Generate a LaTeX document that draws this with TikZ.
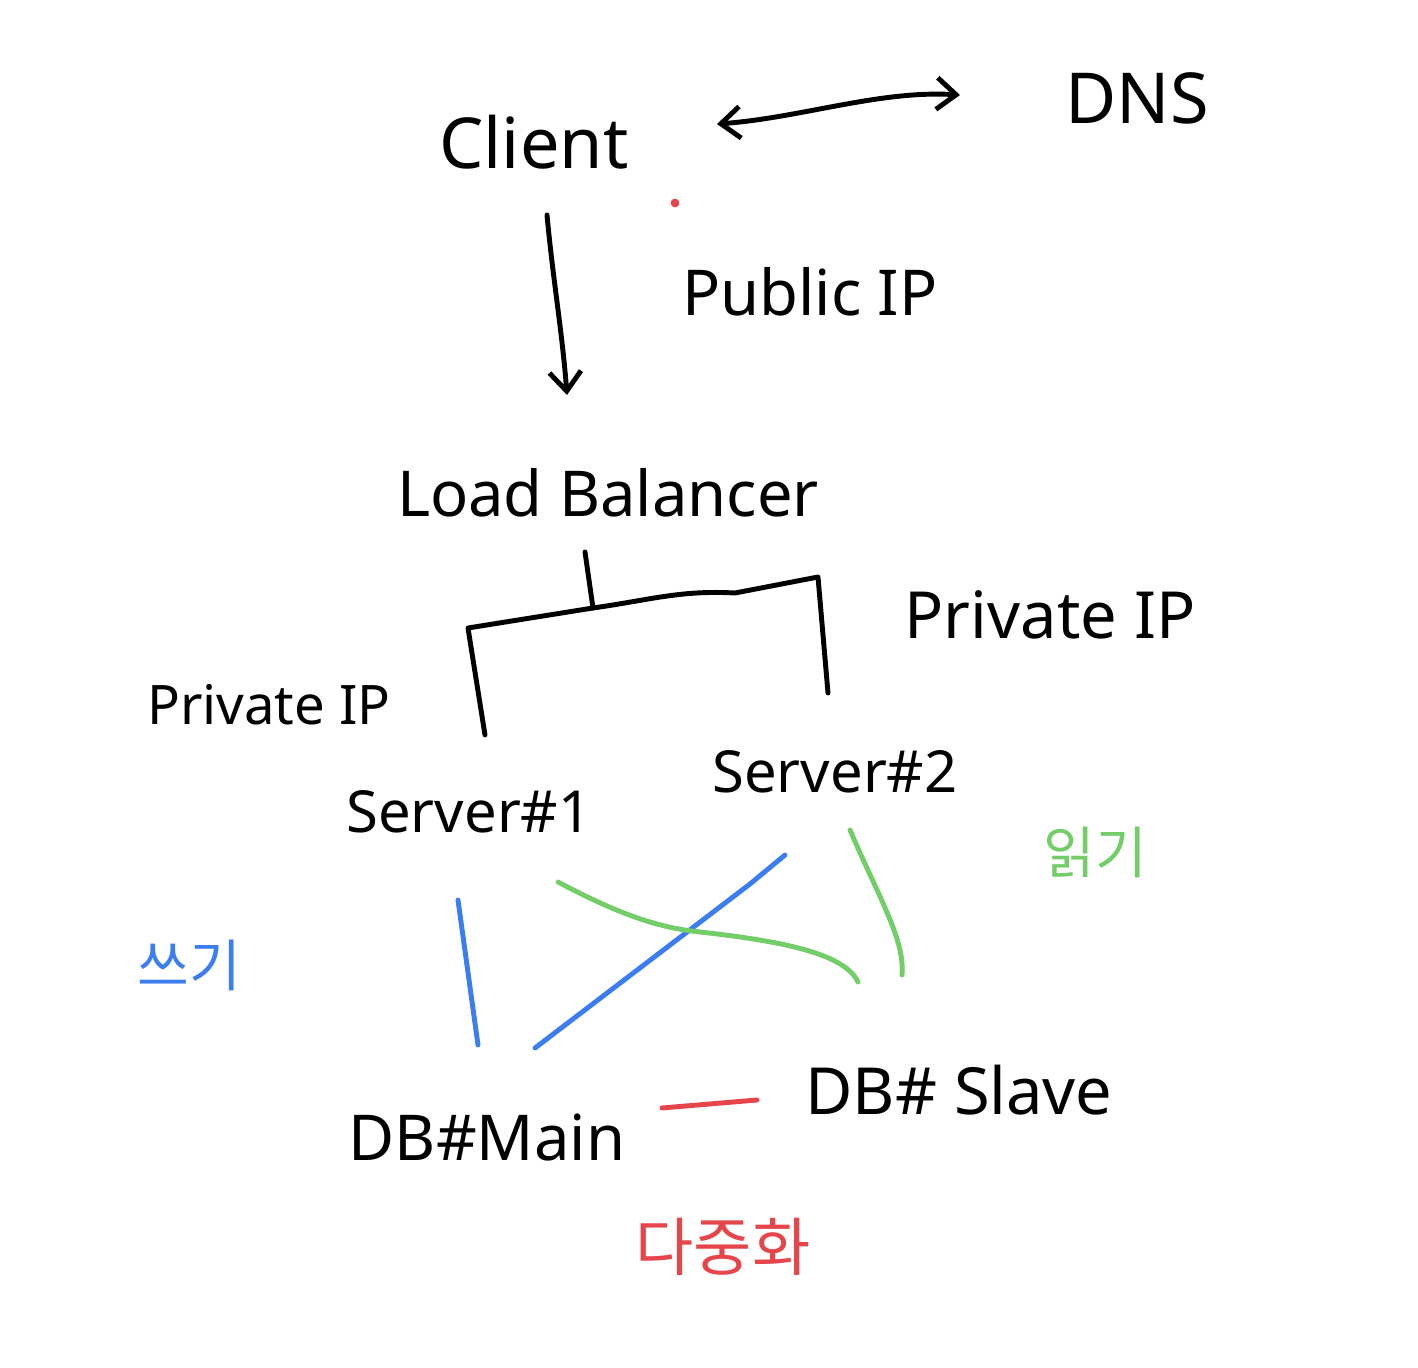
\documentclass[tikz,border=0pt]{standalone}
\usepackage{fontspec}
\setmainfont{Noto Sans}
\newfontfamily\krfont{Noto Sans CJK KR}
\usetikzlibrary{arrows.meta,positioning}

\definecolor{writeblue}{RGB}{60,125,240}
\definecolor{readgreen}{RGB}{115,205,105}
\definecolor{dupred}{RGB}{230,70,75}

\tikzset{
  lbl/.style={inner sep=0pt, font=\fontsize{#1}{#1}\selectfont},
  lbl/.default=40,
  kr/.style={inner sep=0pt, font=\krfont\fontsize{#1}{#1}\selectfont},
  kr/.default=32,
  pen/.style={line width=2.8pt, line cap=round, line join=round},
  barb/.tip={Straight Barb[length=11pt,width=18pt,line width=2.8pt]}
}

\begin{document}
\begin{tikzpicture}[x=0.02cm,y=-0.02cm]
    \useasboundingbox (0,0) rectangle (1418,1368);

    % Labels
    \node[lbl] (client) at (534,142) {Client};
    \node[lbl] (dns) at (1137,98) {DNS};
    \node[lbl=36] (pubip) at (810,292) {Public IP};
    \node[lbl=36] (lb) at (608,493) {Load Balancer};
    \node[lbl=37] (privr) at (1050,615) {Private IP};
    \node[lbl=31] (privl) at (269,705) {Private IP};
    \node[lbl=33] (srv1) at (469,812) {Server\#1};
    \node[lbl=33] (srv2) at (835,772) {Server\#2};
    \node[lbl=36] (dbmain) at (487,1138) {DB\#Main};
    \node[lbl=37] (dbslave) at (959,1090) {DB\# Slave};

    \node[kr, writeblue] (write) at (189,965) {쓰기};
    \node[kr, readgreen] (read) at (1095,852) {읽기};
    \node[kr=36, dupred] (dup) at (723,1247) {다중화};

    % Client <-> DNS
    \coordinate (dnsl) at (717,124);
    \coordinate (dnsr) at (960,95);
    \draw[pen, barb-barb] (dnsl) .. controls (800,118) and (880,90) .. (dnsr);

    % Client -> Load Balancer
    \coordinate (clbot) at (547,215);
    \coordinate (lbtop) at (567,395);
    \draw[pen, -barb] (clbot) .. controls (553,280) and (562,330) .. (lbtop);

    % Load Balancer -> servers
    \coordinate (stem) at (585,552);
    \coordinate (fork) at (593,608);
    \coordinate (s1top) at (485,735);
    \coordinate (s2top) at (828,693);
    \draw[pen] (stem) -- (fork);
    \draw[pen] (s1top) -- (468,628) -- (fork)
        .. controls (650,600) and (680,590) .. (735,593) -- (818,577) -- (s2top);

    % Write lines
    \coordinate (w1a) at (458,900);
    \coordinate (w1b) at (478,1045);
    \coordinate (w2a) at (535,1048);
    \coordinate (w2b) at (785,855);
    \draw[pen, writeblue] (w1a) -- (w1b);
    \draw[pen, writeblue] (w2a) -- (750,884) .. controls (768,870) .. (w2b);

    % Read lines
    \coordinate (r1a) at (558,882);
    \coordinate (r1b) at (858,982);
    \coordinate (r2a) at (850,830);
    \coordinate (r2b) at (902,975);
    \draw[pen, readgreen] (r1a) .. controls (620,915) and (660,928) .. (700,932)
        .. controls (790,942) and (845,955) .. (r1b);
    \draw[pen, readgreen] (r2a) .. controls (880,900) and (905,940) .. (r2b);

    % Replication
    \coordinate (dupa) at (662,1108);
    \coordinate (dupb) at (757,1100);
    \draw[pen, dupred] (dupa) -- (dupb);
    \fill[dupred] (675,203) circle (2.5pt);
\end{tikzpicture}
\end{document}
